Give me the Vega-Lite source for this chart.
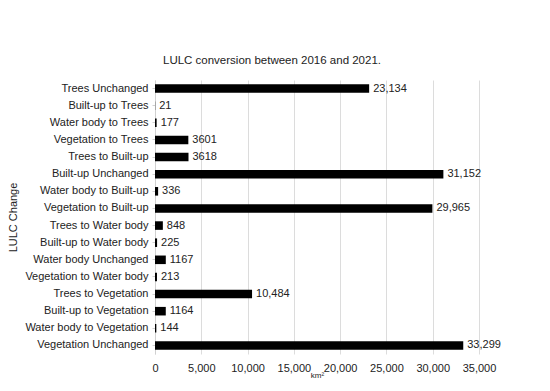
{
  "$schema": "https://vega.github.io/schema/vega-lite/v6.json",
  "autosize": "none",
  "width": 324,
  "height": 274,
  "padding": {"left": 155, "top": 80, "right": 71, "bottom": 37},
  "background": "white",
  "title": {
    "text": "LULC conversion between 2016 and 2021.",
    "font": "Liberation Sans",
    "fontSize": 11.5,
    "fontWeight": "normal",
    "color": "#222",
    "anchor": "middle",
    "dx": -45,
    "offset": 14
  },
  "data": {
    "values": [
      {"change": "Trees Unchanged", "area": 23134, "label": "23,134"},
      {"change": "Built-up to Trees", "area": 21, "label": "21"},
      {"change": "Water body to Trees", "area": 177, "label": "177"},
      {"change": "Vegetation to Trees", "area": 3601, "label": "3601"},
      {"change": "Trees to Built-up", "area": 3618, "label": "3618"},
      {"change": "Built-up Unchanged", "area": 31152, "label": "31,152"},
      {"change": "Water body to Built-up", "area": 336, "label": "336"},
      {"change": "Vegetation to Built-up", "area": 29965, "label": "29,965"},
      {"change": "Trees to Water body", "area": 848, "label": "848"},
      {"change": "Built-up to Water body", "area": 225, "label": "225"},
      {"change": "Water body Unchanged", "area": 1167, "label": "1167"},
      {"change": "Vegetation to Water body", "area": 213, "label": "213"},
      {"change": "Trees to Vegetation", "area": 10484, "label": "10,484"},
      {"change": "Built-up to Vegetation", "area": 1164, "label": "1164"},
      {"change": "Water body to Vegetation", "area": 144, "label": "144"},
      {"change": "Vegetation Unchanged", "area": 33299, "label": "33,299"}
    ]
  },
  "encoding": {
    "y": {
      "field": "change",
      "type": "nominal",
      "sort": null,
      "scale": {"paddingInner": 0.5, "paddingOuter": 0.25},
      "axis": {
        "title": "LULC Change",
        "titleFont": "Liberation Sans",
        "titleFontSize": 11,
        "titleFontWeight": "normal",
        "titleColor": "#222",
        "titlePadding": 6,
        "labelFont": "Liberation Sans",
        "labelFontSize": 11,
        "labelColor": "#222",
        "labelPadding": 4,
        "domainColor": "#d0d0d0",
        "tickColor": "#d0d0d0",
        "tickSize": 3,
        "grid": false
      }
    },
    "x": {
      "field": "area",
      "type": "quantitative",
      "scale": {"domain": [0, 35000], "nice": false},
      "axis": {
        "title": "km²",
        "titleFont": "Liberation Sans",
        "titleFontSize": 8,
        "titleFontWeight": "normal",
        "titleColor": "#222",
        "titlePadding": -2,
        "values": [0, 5000, 10000, 15000, 20000, 25000, 30000, 35000],
        "format": ",.0f",
        "labelOverlap": false,
        "labelFlush": false,
        "labelFont": "Liberation Sans",
        "labelFontSize": 11,
        "labelColor": "#222",
        "labelPadding": 8,
        "domain": false,
        "ticks": false,
        "grid": true,
        "gridColor": "#dcdcdc"
      }
    }
  },
  "layer": [
    {"mark": {"type": "bar", "color": "#000"}},
    {
      "mark": {"type": "text", "align": "left", "dx": 4, "font": "Liberation Sans", "fontSize": 11, "color": "#222"},
      "encoding": {"text": {"field": "label"}}
    }
  ],
  "config": {"view": {"stroke": null}}
}
